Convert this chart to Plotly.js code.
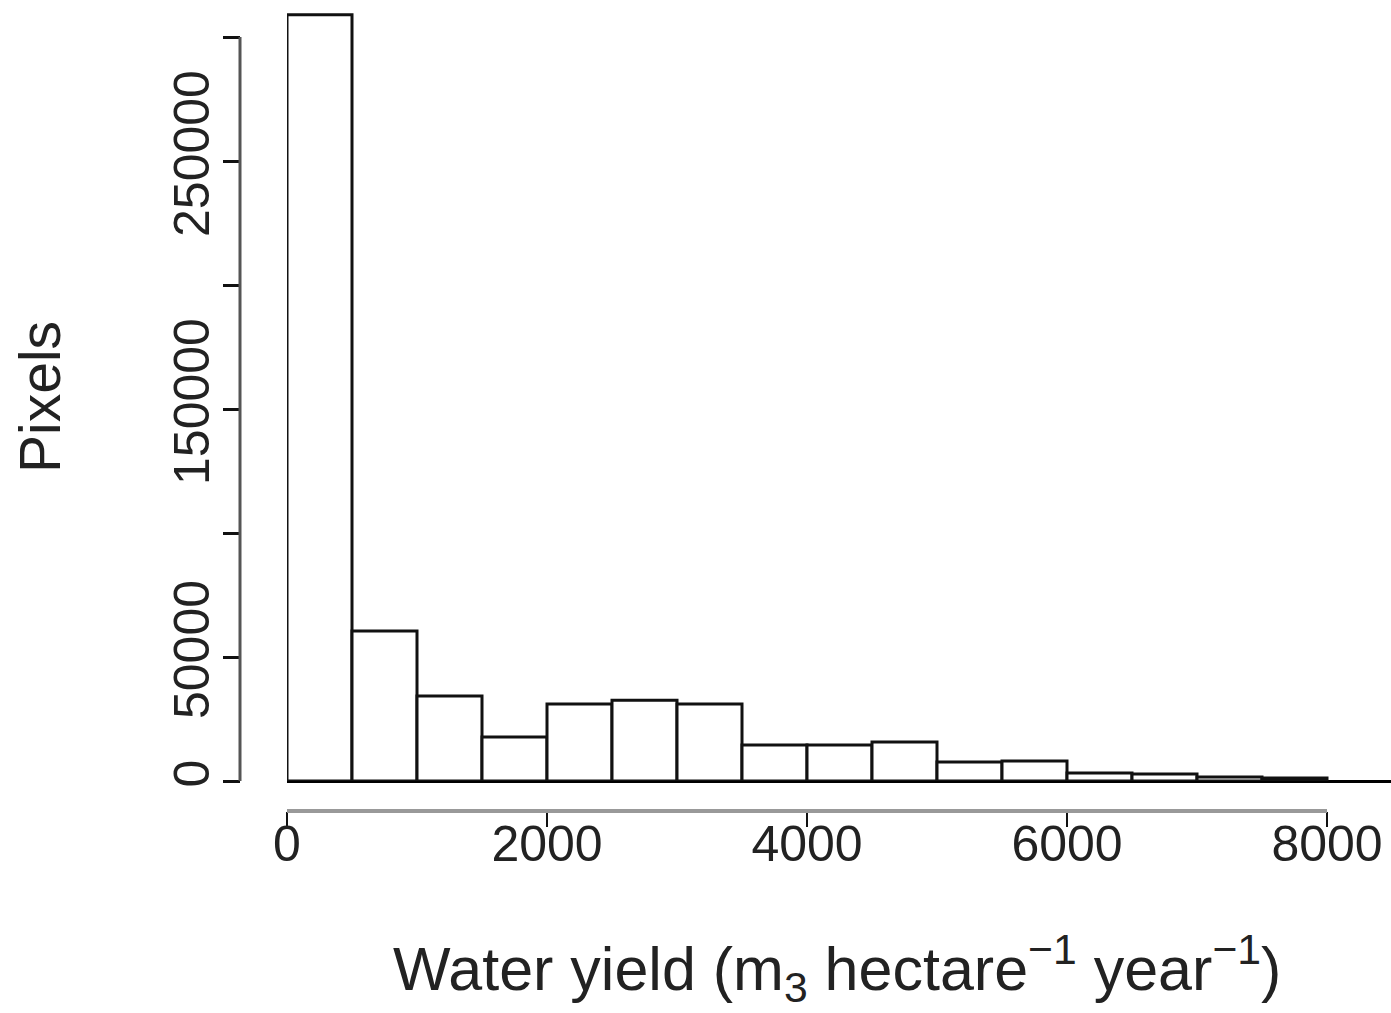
<!DOCTYPE html>
<html>
<head>
<meta charset="utf-8">
<script src="https://cdn.plot.ly/plotly-3.0.1.min.js"></script>
<style>html,body{margin:0;padding:0;background:#fff;}#chart{width:1391px;height:1013px;}</style>
</head>
<body>
<div id="chart"></div>
<script>
// Histogram bins (lower edges, m3 per hectare per year) and pixel counts
const binStarts = [0, 500, 1000, 1500, 2000, 2500, 3000, 3500, 4000, 4500, 5000, 5500, 6000, 6500, 7000, 7500];
const binWidth = 500;
const pixelCounts = [309000, 60500, 34300, 17700, 31000, 32600, 31000, 14500, 14500, 15700, 7700, 8100, 3200, 2800, 1600, 1200];
const yTickVals = [0, 50000, 150000, 250000];
const yTickText = ["0", "50000", "150000", "250000"];
const yTickStep = 50000;
const yAxisTop = 300000;
const xTickVals = [0, 2000, 4000, 6000, 8000];
const xTickText = ["0", "2000", "4000", "6000", "8000"];
const xAxisEnd = 8000;

const FONT = "'Liberation Sans', Arial, sans-serif";

const trace = {
  type: 'bar',
  x: binStarts.map(b => b + binWidth / 2),
  y: pixelCounts,
  width: binWidth,
  marker: {color: '#ffffff', line: {color: '#111111', width: 3}},
  hoverinfo: 'x+y'
};

const L = 240, R = 0, T = 12, B = 202;
const plotW = 1391 - L - R, plotH = 1013 - T - B;
const xStartPx = 287; // where x = 0 sits
const pxPer1000 = 130;
const xDomStart = (xStartPx - L) / plotW;
const xMax = (1391 - xStartPx) / pxPer1000 * 1000;
const baseDom = 30 / plotH;
const pxPer50k = 124;
const yMax = (811 - 30 - T) / pxPer50k * 50000;

const layout = {
  width: 1391, height: 1013,
  margin: {l: L, r: R, t: T, b: B, pad: 0},
  paper_bgcolor: '#ffffff', plot_bgcolor: '#ffffff',
  showlegend: false,
  bargap: 0,
  font: {family: FONT, color: '#222222', size: 50},
  xaxis: {
    domain: [xDomStart, 1],
    range: [0, xMax],
    anchor: 'free', position: 0,
    showgrid: false, zeroline: false, showline: false,
    ticks: 'outside', ticklen: 15, tickwidth: 2, tickcolor: '#111',
    tickvals: xTickVals, ticktext: xTickText,
    ticklabelstandoff: -26,
    tickfont: {family: FONT, size: 50, color: '#222'}
  },
  yaxis: {
    domain: [baseDom, 1],
    range: [0, yMax],
    anchor: 'free', position: 0,
    showgrid: false, zeroline: true, zerolinecolor: '#000', zerolinewidth: 3,
    showline: false,
    ticks: 'outside', ticklen: 17, tickwidth: 3, tickcolor: '#111',
    tickvals: yTickVals, ticktext: yTickText, tickangle: -90,
    ticklabelstandoff: -6,
    minor: {tick0: 0, dtick: yTickStep, ticks: 'outside', ticklen: 17, tickwidth: 3, tickcolor: '#111', showgrid: false},
    tickfont: {family: FONT, size: 50, color: '#222'}
  },
  shapes: [
    {type: 'line', xref: 'paper', yref: 'y', x0: 0, x1: 0, y0: 0, y1: yAxisTop,
     line: {color: '#555', width: 3}},
    {type: 'line', xref: 'x', yref: 'paper', x0: 0, x1: xAxisEnd, y0: 0, y1: 0,
     line: {color: '#999', width: 4}}
  ],
  annotations: [
    {text: 'Water yield (m<sub>3</sub> hectare<sup>−1</sup> year<sup>−1</sup>)',
     xref: 'paper', yref: 'paper', x: (837 - L) / plotW, y: (811 - 968) / plotH,
     xanchor: 'center', yanchor: 'middle', showarrow: false,
     font: {family: FONT, size: 61, color: '#222'}},
    {text: 'Pixels', textangle: -90,
     xref: 'paper', yref: 'paper', x: (40 - L) / plotW, y: (811 - 397) / plotH,
     xanchor: 'center', yanchor: 'middle', showarrow: false,
     font: {family: FONT, size: 57, color: '#222'}}
  ]
};

Plotly.newPlot('chart', [trace], layout, {displayModeBar: false, staticPlot: true});
</script>
</body>
</html>
